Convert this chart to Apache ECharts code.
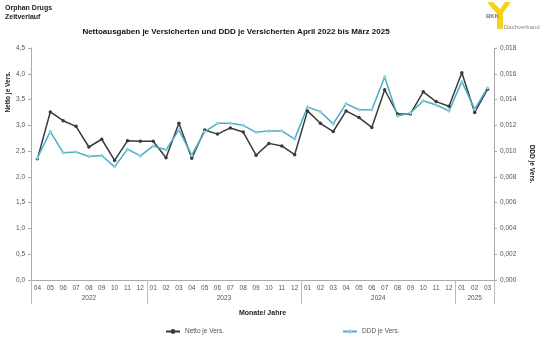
<!DOCTYPE html>
<html>
<head>
<meta charset="utf-8">
<script src="https://cdn.jsdelivr.net/npm/echarts@6/dist/echarts.min.js"></script>
<style>html,body{margin:0;padding:0;background:#fff}#c{width:543px;height:345px}</style>
</head>
<body>
<div id="c"></div>
<script>
const months = ['04','05','06','07','08','09','10','11','12',
  '01','02','03','04','05','06','07','08','09','10','11','12',
  '01','02','03','04','05','06','07','08','09','10','11','12',
  '01','02','03'];
const years = ['2022','2023','2024','2025'];
const monthsPerYear = [9, 12, 12, 3];
const nettoValues = [2.35,3.26,3.09,2.98,2.58,2.73,2.32,2.70,2.69,
  2.69,2.37,3.04,2.36,2.91,2.83,2.95,2.87,2.42,2.65,2.60,2.43,
  3.28,3.04,2.88,3.28,3.15,2.96,3.69,3.22,3.22,3.65,3.46,3.37,
  4.02,3.25,3.70];
const dddValues = [0.00947,0.01152,0.00988,0.00994,0.00958,0.00966,0.00878,0.01015,0.00963,
  0.0104,0.0101,0.01165,0.00968,0.0115,0.01216,0.01216,0.0120,0.01146,0.01157,0.01157,0.01093,
  0.01343,0.01306,0.01211,0.01368,0.01321,0.01321,0.01575,0.01273,0.01296,0.01391,0.01358,0.01312,
  0.01539,0.01325,0.0149];
const leftTicks = {min: 0, max: 4.5, interval: 0.5};
const rightTicks = {min: 0, max: 0.018, interval: 0.002};

// year boundaries and label centres derived from monthsPerYear
const bounds = [0];
monthsPerYear.forEach(n => bounds.push(bounds[bounds.length - 1] + n));
const centres = years.map((y, i) => (bounds[i] + bounds[i + 1]) / 2);

const FONT = 'Liberation Sans, Arial, sans-serif';
const chart = echarts.init(document.getElementById('c'), null, {renderer: 'canvas'});
chart.setOption({
  animation: false,
  textStyle: {fontFamily: FONT},
  grid: {left: 31, right: 46, top: 48, bottom: 65, containLabel: false},
  title: {
    text: 'Nettoausgaben je Versicherten und DDD je Versicherten April 2022 bis März 2025',
    left: 231, top: 23, textAlign: 'center',
    textStyle: {fontSize: 8, fontWeight: 'bold', color: '#111', fontFamily: FONT}
  },
  legend: {
    data: ['Netto je Vers.', 'DDD je Vers.'],
    left: 160, top: 323, itemGap: 118, itemWidth: 14, itemHeight: 6,
    textStyle: {fontSize: 6.5, color: '#555', fontFamily: FONT}
  },
  graphic: [
    {type: 'text', left: 5, top: 4, style: {text: 'Orphan Drugs\nZeitverlauf', fontSize: 7, fontWeight: 'bold', fill: '#222', lineHeight: 9, font: 'bold 7px Liberation Sans'}},
    {type: 'text', x: 8, y: 92, rotation: Math.PI / 2, style: {text: 'Netto je Vers.', fontSize: 6.5, fontWeight: 'bold', fill: '#222', align: 'center', verticalAlign: 'middle', font: 'bold 6.5px Liberation Sans'}},
    // logo
    {type: 'polygon', shape: {points: [[487,2],[493,2],[500,9],[505,2],[511,2],[503,13],[503,29],[497,29],[497,14]]}, style: {fill: '#f6d21a'}},
    {type: 'text', x: 486, y: 13, style: {text: 'BKK', font: 'bold 6px Liberation Sans', fill: '#777'}},
    {type: 'text', x: 504, y: 24, style: {text: 'Dachverband', font: '6px Liberation Sans', fill: '#888'}}
  ],
  xAxis: [
    {
      type: 'category', data: months, boundaryGap: true, position: 'bottom',
      axisLine: {lineStyle: {color: '#aaa', width: 1}},
      axisTick: {show: false},
      axisLabel: {fontSize: 6.5, color: '#555', margin: 5, interval: 0},
      name: 'Monate/ Jahre', nameLocation: 'middle', nameGap: 30,
      nameTextStyle: {fontSize: 7, fontWeight: 'bold', color: '#222'}
    },
    {
      type: 'value', min: 0, max: bounds[bounds.length - 1], position: 'bottom',
      axisLine: {show: false},
      splitLine: {show: false},
      axisTick: {show: true, length: 24, customValues: bounds, lineStyle: {color: '#bbb'}},
      axisLabel: {show: true, customValues: centres, fontSize: 6.5, color: '#555', margin: 15,
        formatter: v => years[centres.indexOf(v)] || ''}
    }
  ],
  yAxis: [
    {
      type: 'value', position: 'left', min: leftTicks.min, max: leftTicks.max, interval: leftTicks.interval,
      axisLine: {show: true, lineStyle: {color: '#aaa'}},
      axisTick: {show: true, length: 3, lineStyle: {color: '#aaa'}},
      splitLine: {show: false},
      axisLabel: {fontSize: 6.5, color: '#555', margin: 6, formatter: v => v.toFixed(1).replace('.', ',')}
    },
    {
      type: 'value', position: 'right', min: rightTicks.min, max: rightTicks.max, interval: rightTicks.interval,
      axisLine: {show: true, lineStyle: {color: '#aaa'}},
      axisTick: {show: true, length: 3, lineStyle: {color: '#aaa'}},
      splitLine: {show: false},
      axisLabel: {fontSize: 6.5, color: '#555', margin: 6, formatter: v => v.toFixed(3).replace('.', ',')},
      name: 'DDD je Vers.', nameLocation: 'middle', nameRotate: -90, nameGap: 34,
      nameTextStyle: {fontSize: 6.5, fontWeight: 'bold', color: '#222'}
    }
  ],
  series: [
    {
      name: 'Netto je Vers.', type: 'line', data: nettoValues, xAxisIndex: 0, yAxisIndex: 0,
      symbol: 'circle', symbolSize: 3.5,
      lineStyle: {color: '#3a3a3a', width: 1.5},
      itemStyle: {color: '#3a3a3a'}
    },
    {
      name: 'DDD je Vers.', type: 'line', data: dddValues, xAxisIndex: 0, yAxisIndex: 1,
      symbol: 'diamond', symbolSize: 4,
      lineStyle: {color: '#4bacc6', width: 1.5},
      itemStyle: {color: '#8fd0e0'}
    }
  ]
});
</script>
</body>
</html>
